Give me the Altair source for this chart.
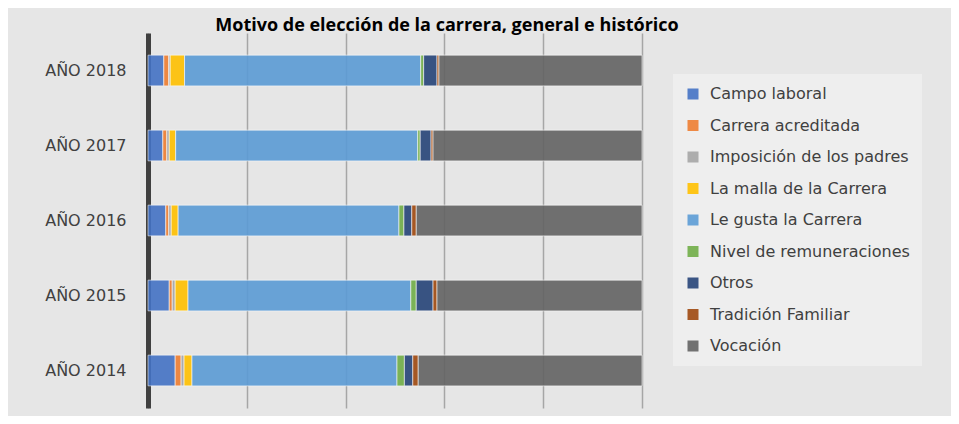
import altair as alt
import pandas as pd

# Data (percent share per year)
years = ["AÑO 2018", "AÑO 2017", "AÑO 2016", "AÑO 2015", "AÑO 2014"]
motivos = [
    "Campo laboral",
    "Carrera acreditada",
    "Imposición de los padres",
    "La malla de la Carrera",
    "Le gusta la Carrera",
    "Nivel de remuneraciones",
    "Otros",
    "Tradición Familiar",
    "Vocación",
]
campo_laboral = [3.2, 3.0, 3.6, 4.3, 5.5]
carrera_acreditada = [1.0, 0.8, 0.6, 0.6, 1.2]
imposicion_padres = [0.3, 0.5, 0.5, 0.6, 0.6]
malla_carrera = [2.9, 1.3, 1.4, 2.6, 1.6]
le_gusta = [47.8, 49.0, 44.7, 45.1, 41.5]
nivel_remuneraciones = [0.6, 0.5, 1.0, 1.1, 1.5]
otros = [2.7, 2.2, 1.6, 3.4, 1.7]
tradicion_familiar = [0.4, 0.4, 0.9, 0.8, 1.1]
vocacion = [41.1, 42.3, 45.7, 41.5, 45.3]

colores = ["#4472C4", "#ED7D31", "#A5A5A5", "#FFC000", "#5B9BD5",
           "#70AD47", "#264478", "#9E480E", "#636363"]

series = [campo_laboral, carrera_acreditada, imposicion_padres, malla_carrera,
          le_gusta, nivel_remuneraciones, otros, tradicion_familiar, vocacion]

rows = []
for i, (m, vals) in enumerate(zip(motivos, series)):
    for y, v in zip(years, vals):
        rows.append({"anio": y, "motivo": m, "valor": v, "orden": i})
df = pd.DataFrame(rows)

chart = alt.Chart(df).mark_bar(
    opacity=0.9, stroke="white", strokeWidth=1, strokeOpacity=0.6
).encode(
    x=alt.X("valor:Q", stack="normalize",
            scale=alt.Scale(domain=[0, 1], nice=False),
            axis=alt.Axis(labels=False, ticks=False, domain=False, grid=True,
                          values=[0, 0.2, 0.4, 0.6, 0.8, 1.0],
                          gridColor="#a6a6a6", gridWidth=1.5, title=None)),
    y=alt.Y("anio:N", sort=years,
            scale=alt.Scale(paddingInner=0.59, paddingOuter=0.295),
            axis=alt.Axis(title=None, ticks=False, domainColor="#404040",
                          domainWidth=5, labelFontSize=16, labelColor="#404040",
                          labelFont="DejaVu Sans", labelPadding=22)),
    color=alt.Color("motivo:N",
                    scale=alt.Scale(domain=motivos, range=colores),
                    legend=alt.Legend(title=None, orient="none", legendX=525, legendY=41,
                                      symbolType="square", symbolSize=121,
                                      symbolStrokeWidth=0, symbolOpacity=0.9,
                                      labelFontSize=16, labelColor="#404040",
                                      labelFont="DejaVu Sans", labelOffset=9,
                                      rowPadding=15.5, padding=12,
                                      fillColor="#eeeeee", labelLimit=400)),
    order=alt.Order("orden:Q"),
).properties(
    width=494,
    height=375,
    autosize=alt.AutoSizeParams(type="none"),
    padding={"left": 140, "top": 25, "right": 309, "bottom": 8},
    title=alt.TitleParams("Motivo de elección de la carrera, general e histórico",
                          fontSize=18, fontWeight="bold", font="Open Sans",
                          color="#000000", anchor="middle", dx=52, dy=24,
                          baseline="alphabetic", offset=8),
).configure(background="#e6e6e6").configure_view(stroke=None)

chart.save("out.html", embed_options={"renderer": "svg", "actions": False})
